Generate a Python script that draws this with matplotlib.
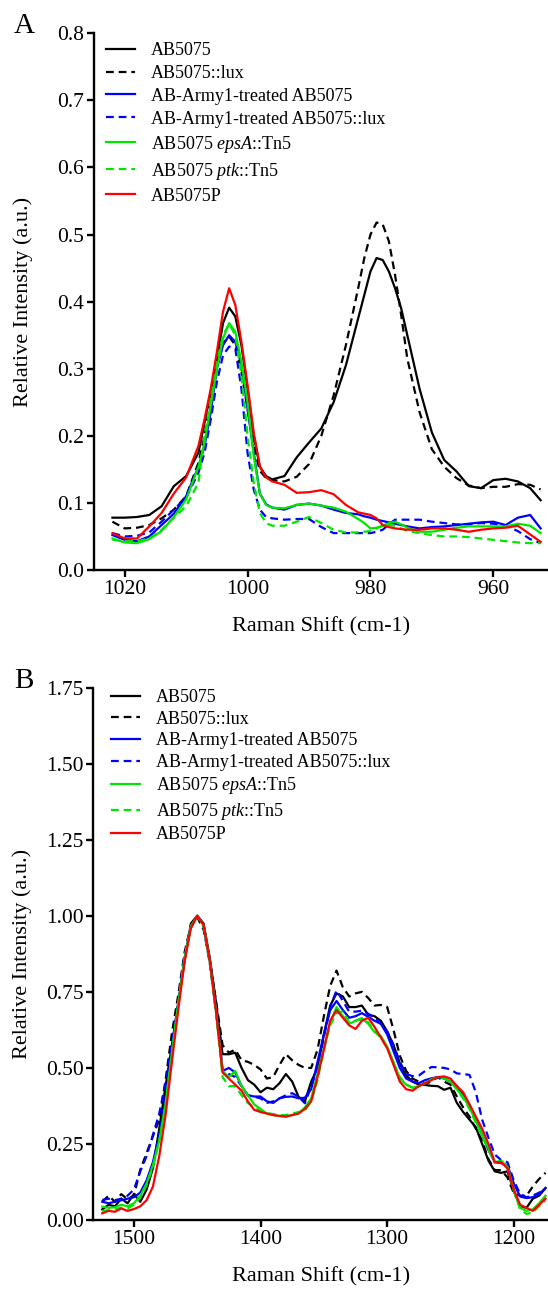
import matplotlib
matplotlib.use("Agg")
import matplotlib.pyplot as plt
from matplotlib.ticker import FormatStrFormatter

plt.rcParams['font.family'] = ['Liberation Serif', 'DejaVu Serif']
plt.rcParams['mathtext.fontset'] = 'custom'
plt.rcParams['mathtext.rm'] = 'Liberation Serif'
plt.rcParams['mathtext.it'] = 'Liberation Serif:italic'

# legend order / styles (same for both panels)
labels = ['AB5075', 'AB5075::lux', 'AB-Army1-treated AB5075',
          'AB-Army1-treated AB5075::lux', r'AB5075 $\it{epsA}$::Tn5',
          r'AB5075 $\it{ptk}$::Tn5', 'AB5075P']
colors = ['black', 'black', '#0000ff', '#0000ff', '#00e600', '#00e600', '#ff0000']
dashed = [False, True, False, True, False, True, False]

# ---- panel A : 1022 - 952 cm-1 ----
shift_a = [1022, 1020, 1018, 1016, 1014, 1012, 1010, 1008, 1007, 1006, 1005, 1004,
           1003, 1002, 1001, 1000, 999, 998, 997, 996, 994, 992, 990, 988, 986, 984,
           982, 981, 980, 979, 978, 977, 976, 975, 974, 972, 970, 968, 966, 964, 962,
           960, 958, 956, 954, 952.3]

a_ab5075 = [0.078, 0.078, 0.079, 0.082, 0.095, 0.125, 0.14, 0.175, 0.22, 0.265, 0.312, 0.368,
            0.391, 0.378, 0.335, 0.27, 0.2, 0.154, 0.14, 0.135, 0.14, 0.168, 0.19, 0.211, 0.25, 0.305,
            0.375, 0.41, 0.445, 0.465, 0.462, 0.445, 0.42, 0.39, 0.35, 0.27, 0.205, 0.164, 0.147, 0.125, 0.122,
            0.134, 0.136, 0.132, 0.122, 0.104]
a_lux = [0.072, 0.062, 0.063, 0.067, 0.077, 0.09, 0.11, 0.16, 0.2, 0.265, 0.31, 0.338,
         0.348, 0.335, 0.295, 0.24, 0.185, 0.148, 0.137, 0.134, 0.132, 0.139, 0.158, 0.2, 0.26, 0.335,
         0.42, 0.465, 0.5, 0.518, 0.515, 0.49, 0.44, 0.38, 0.315, 0.235, 0.18, 0.154, 0.137, 0.126, 0.122,
         0.124, 0.124, 0.128, 0.127, 0.12]
a_army = [0.052, 0.045, 0.043, 0.05, 0.067, 0.084, 0.11, 0.154, 0.185, 0.235, 0.3, 0.335,
          0.35, 0.34, 0.305, 0.24, 0.175, 0.114, 0.098, 0.093, 0.09, 0.097, 0.099, 0.096, 0.09, 0.085,
          0.083, 0.08, 0.078, 0.075, 0.073, 0.071, 0.069, 0.067, 0.065, 0.062, 0.064, 0.065, 0.067, 0.069, 0.071,
          0.072, 0.067, 0.078, 0.082, 0.062]
a_army_lux = [0.055, 0.05, 0.051, 0.056, 0.072, 0.09, 0.108, 0.145, 0.175, 0.224, 0.28, 0.32,
              0.333, 0.33, 0.27, 0.174, 0.12, 0.09, 0.079, 0.077, 0.075, 0.076, 0.076, 0.064, 0.055, 0.055,
              0.055, 0.055, 0.055, 0.057, 0.06, 0.068, 0.075, 0.075, 0.075, 0.075, 0.072, 0.07, 0.068, 0.068, 0.07,
              0.069, 0.066, 0.058, 0.046, 0.04]
a_epsa = [0.047, 0.041, 0.04, 0.046, 0.058, 0.079, 0.105, 0.154, 0.19, 0.245, 0.3, 0.345,
          0.368, 0.355, 0.31, 0.25, 0.17, 0.114, 0.097, 0.093, 0.092, 0.097, 0.099, 0.096, 0.093, 0.087,
          0.076, 0.07, 0.062, 0.063, 0.066, 0.07, 0.072, 0.068, 0.063, 0.057, 0.057, 0.06, 0.063, 0.065, 0.065,
          0.065, 0.065, 0.069, 0.066, 0.055]
a_ptk = [0.045, 0.043, 0.043, 0.047, 0.06, 0.078, 0.095, 0.13, 0.2, 0.255, 0.31, 0.35,
         0.367, 0.35, 0.29, 0.2, 0.13, 0.085, 0.07, 0.066, 0.066, 0.072, 0.079, 0.07, 0.06, 0.056,
         0.056, 0.057, 0.058, 0.062, 0.066, 0.067, 0.066, 0.062, 0.058, 0.055, 0.052, 0.05, 0.05, 0.049, 0.047,
         0.045, 0.043, 0.041, 0.04, 0.04]
a_p = [0.055, 0.047, 0.047, 0.065, 0.085, 0.114, 0.138, 0.185, 0.225, 0.27, 0.325, 0.385,
       0.42, 0.395, 0.34, 0.275, 0.205, 0.154, 0.138, 0.132, 0.127, 0.115, 0.116, 0.119, 0.113, 0.097,
       0.086, 0.084, 0.082, 0.077, 0.067, 0.064, 0.062, 0.061, 0.06, 0.06, 0.062, 0.062, 0.06, 0.057, 0.06,
       0.062, 0.063, 0.066, 0.053, 0.042]

# ---- panel B : 1525 - 1175 cm-1 ----
shift_b = [1525, 1520, 1515, 1510, 1505, 1500, 1495, 1490, 1485, 1480, 1475, 1470,
           1465, 1460, 1455, 1450, 1445, 1440, 1435, 1430, 1425, 1420, 1415, 1410,
           1405, 1400, 1395, 1390, 1385, 1380, 1375, 1370, 1365, 1360, 1355, 1350,
           1345, 1340, 1335, 1330, 1325, 1320, 1315, 1310, 1305, 1300, 1295, 1290,
           1285, 1280, 1275, 1270, 1265, 1260, 1255, 1250, 1245, 1240, 1235, 1230,
           1225, 1220, 1215, 1210, 1205, 1200, 1195, 1190, 1185, 1180, 1175]

b_ab5075 = [0.035, 0.05, 0.045, 0.07, 0.055, 0.085, 0.06, 0.1, 0.17, 0.3, 0.44, 0.575,
            0.715, 0.85, 0.975, 1.0, 0.975, 0.86, 0.71, 0.545, 0.545, 0.55, 0.5, 0.46,
            0.445, 0.42, 0.435, 0.43, 0.45, 0.48, 0.455, 0.405, 0.39, 0.455, 0.5, 0.61,
            0.705, 0.745, 0.735, 0.7, 0.7, 0.705, 0.675, 0.67, 0.655, 0.62, 0.575, 0.515,
            0.475, 0.455, 0.445, 0.444, 0.441, 0.44, 0.428, 0.435, 0.385, 0.355, 0.33, 0.305,
            0.25, 0.195, 0.16, 0.155, 0.16, 0.095, 0.045, 0.04, 0.07, 0.08, 0.105]
b_lux = [0.06, 0.08, 0.06, 0.085, 0.068, 0.08, 0.165, 0.22, 0.275, 0.33, 0.46, 0.615,
         0.74, 0.88, 0.97, 0.995, 0.955, 0.85, 0.715, 0.575, 0.55, 0.56, 0.525, 0.52,
         0.51, 0.495, 0.465, 0.47, 0.51, 0.545, 0.525, 0.51, 0.5, 0.5, 0.56, 0.67,
         0.77, 0.82, 0.765, 0.735, 0.745, 0.75, 0.73, 0.705, 0.707, 0.7, 0.625, 0.54,
         0.49, 0.465, 0.455, 0.448, 0.455, 0.47, 0.455, 0.445, 0.406, 0.37, 0.34, 0.3,
         0.26, 0.2, 0.164, 0.164, 0.14, 0.088, 0.08, 0.08, 0.11, 0.135, 0.155]
b_army = [0.06, 0.055, 0.06, 0.065, 0.07, 0.075, 0.09, 0.13, 0.19, 0.28, 0.4, 0.56,
          0.71, 0.86, 0.965, 1.0, 0.97, 0.85, 0.69, 0.49, 0.5, 0.485, 0.44, 0.41,
          0.406, 0.406, 0.39, 0.385, 0.4, 0.405, 0.406, 0.4, 0.402, 0.43, 0.52, 0.61,
          0.69, 0.72, 0.69, 0.665, 0.67, 0.68, 0.668, 0.655, 0.645, 0.61, 0.555, 0.5,
          0.465, 0.455, 0.45, 0.46, 0.466, 0.47, 0.465, 0.455, 0.44, 0.41, 0.38, 0.33,
          0.28, 0.23, 0.19, 0.187, 0.18, 0.12, 0.077, 0.072, 0.075, 0.085, 0.105]
b_army_lux = [0.066, 0.07, 0.065, 0.07, 0.08, 0.1, 0.16, 0.21, 0.28, 0.35, 0.45, 0.58,
              0.72, 0.87, 0.96, 1.0, 0.965, 0.84, 0.68, 0.495, 0.48, 0.47, 0.44, 0.41,
              0.405, 0.4, 0.385, 0.39, 0.4, 0.41, 0.417, 0.405, 0.384, 0.44, 0.5, 0.6,
              0.7, 0.755, 0.72, 0.685, 0.685, 0.688, 0.678, 0.665, 0.645, 0.62, 0.575, 0.52,
              0.48, 0.473, 0.475, 0.49, 0.503, 0.502, 0.5, 0.495, 0.482, 0.48, 0.477, 0.42,
              0.33, 0.27, 0.215, 0.197, 0.19, 0.13, 0.085, 0.075, 0.08, 0.09, 0.1]
b_epsa = [0.044, 0.04, 0.042, 0.05, 0.045, 0.055, 0.08, 0.12, 0.18, 0.26, 0.38, 0.55,
          0.71, 0.86, 0.965, 1.0, 0.97, 0.85, 0.68, 0.49, 0.47, 0.49, 0.44, 0.41,
          0.38, 0.365, 0.35, 0.345, 0.342, 0.34, 0.345, 0.35, 0.37, 0.4, 0.48, 0.565,
          0.65, 0.7, 0.67, 0.645, 0.655, 0.664, 0.645, 0.618, 0.605, 0.57, 0.52, 0.465,
          0.445, 0.435, 0.44, 0.45, 0.463, 0.47, 0.468, 0.455, 0.43, 0.405, 0.37, 0.325,
          0.28, 0.235, 0.19, 0.195, 0.175, 0.1, 0.04, 0.03, 0.035, 0.055, 0.08]
b_ptk = [0.03, 0.032, 0.035, 0.04, 0.038, 0.05, 0.075, 0.115, 0.175, 0.26, 0.38, 0.55,
         0.71, 0.86, 0.965, 1.0, 0.965, 0.845, 0.675, 0.47, 0.44, 0.44, 0.41, 0.385,
         0.37, 0.36, 0.352, 0.348, 0.345, 0.345, 0.35, 0.355, 0.36, 0.39, 0.46, 0.56,
         0.64, 0.68, 0.685, 0.65, 0.655, 0.66, 0.65, 0.62, 0.6, 0.565, 0.515, 0.47,
         0.445, 0.435, 0.44, 0.45, 0.462, 0.468, 0.466, 0.455, 0.43, 0.4, 0.365, 0.32,
         0.275, 0.23, 0.19, 0.19, 0.17, 0.095, 0.035, 0.02, 0.025, 0.045, 0.065]
b_p = [0.022, 0.03, 0.027, 0.038, 0.03, 0.036, 0.045, 0.065, 0.11, 0.21, 0.345, 0.52,
       0.69, 0.85, 0.96, 1.0, 0.97, 0.85, 0.68, 0.485, 0.465, 0.445, 0.425, 0.39,
       0.362, 0.355, 0.35, 0.345, 0.342, 0.34, 0.345, 0.35, 0.365, 0.39, 0.47, 0.56,
       0.655, 0.69, 0.665, 0.64, 0.628, 0.655, 0.665, 0.635, 0.6, 0.565, 0.51, 0.455,
       0.43, 0.425, 0.44, 0.45, 0.46, 0.47, 0.472, 0.465, 0.44, 0.42, 0.38, 0.34,
       0.3, 0.25, 0.19, 0.19, 0.17, 0.1, 0.05, 0.04, 0.03, 0.05, 0.07]


def draw_panel(ax, x, ys, xlim, xticks, ylim, yticks, yfmt, leg_anchor, leg_space):
    for y, lab, c, d in zip(ys, labels, colors, dashed):
        if d:
            ax.plot(x, y, color=c, lw=1.6, dashes=(3.5, 2.2), label=lab)
        else:
            ax.plot(x, y, color=c, lw=1.6, label=lab)
    ax.set_xlim(*xlim)
    ax.set_ylim(*ylim)
    ax.set_xticks(xticks)
    ax.set_yticks(yticks)
    ax.yaxis.set_major_formatter(FormatStrFormatter(yfmt))
    for s in ['top', 'right']:
        ax.spines[s].set_visible(False)
    for s in ['left', 'bottom']:
        ax.spines[s].set_linewidth(1.7)
    ax.tick_params(direction='out', length=5, width=1.7, labelsize=15.5, pad=2)
    ax.set_xlabel('Raman Shift (cm-1)', fontsize=16)
    ax.set_ylabel('Relative Intensity (a.u.)', fontsize=16)
    ax.xaxis.set_label_coords(0.5, -0.088)
    ax.yaxis.set_label_coords(-0.135, 0.5)
    ax.legend(loc='upper left', bbox_to_anchor=leg_anchor, frameon=False, fontsize=13,
              handlelength=1.6, handletextpad=0.9, labelspacing=leg_space,
              borderpad=0, borderaxespad=0)


fig = plt.figure(figsize=(5.48, 12.91), dpi=100)
ax_a = fig.add_axes([94 / 548, 1 - 570 / 1291, 454 / 548, 536.7 / 1291])
ax_b = fig.add_axes([93.4 / 548, 1 - 1220 / 1291, 454.6 / 548, 532.3 / 1291])

draw_panel(ax_a, shift_a, [a_ab5075, a_lux, a_army, a_army_lux, a_epsa, a_ptk, a_p],
           (1025, 951.1), [1020, 1000, 980, 960], (0, 0.8),
           [0.0, 0.1, 0.2, 0.3, 0.4, 0.5, 0.6, 0.7, 0.8], '%.1f', (0.026, 0.984), 0.33)
draw_panel(ax_b, shift_b, [b_ab5075, b_lux, b_army, b_army_lux, b_epsa, b_ptk, b_p],
           (1532, 1173), [1500, 1400, 1300, 1200], (0, 1.75),
           [0.0, 0.25, 0.5, 0.75, 1.0, 1.25, 1.5, 1.75], '%.2f', (0.039, 0.997), 0.25)

fig.text(14 / 548, 1 - 33 / 1291, 'A', fontsize=21, va='baseline')
fig.text(14 / 548, 1 - 688 / 1291, 'B', fontsize=21, va='baseline')

fig.savefig('out.png', dpi=100)
